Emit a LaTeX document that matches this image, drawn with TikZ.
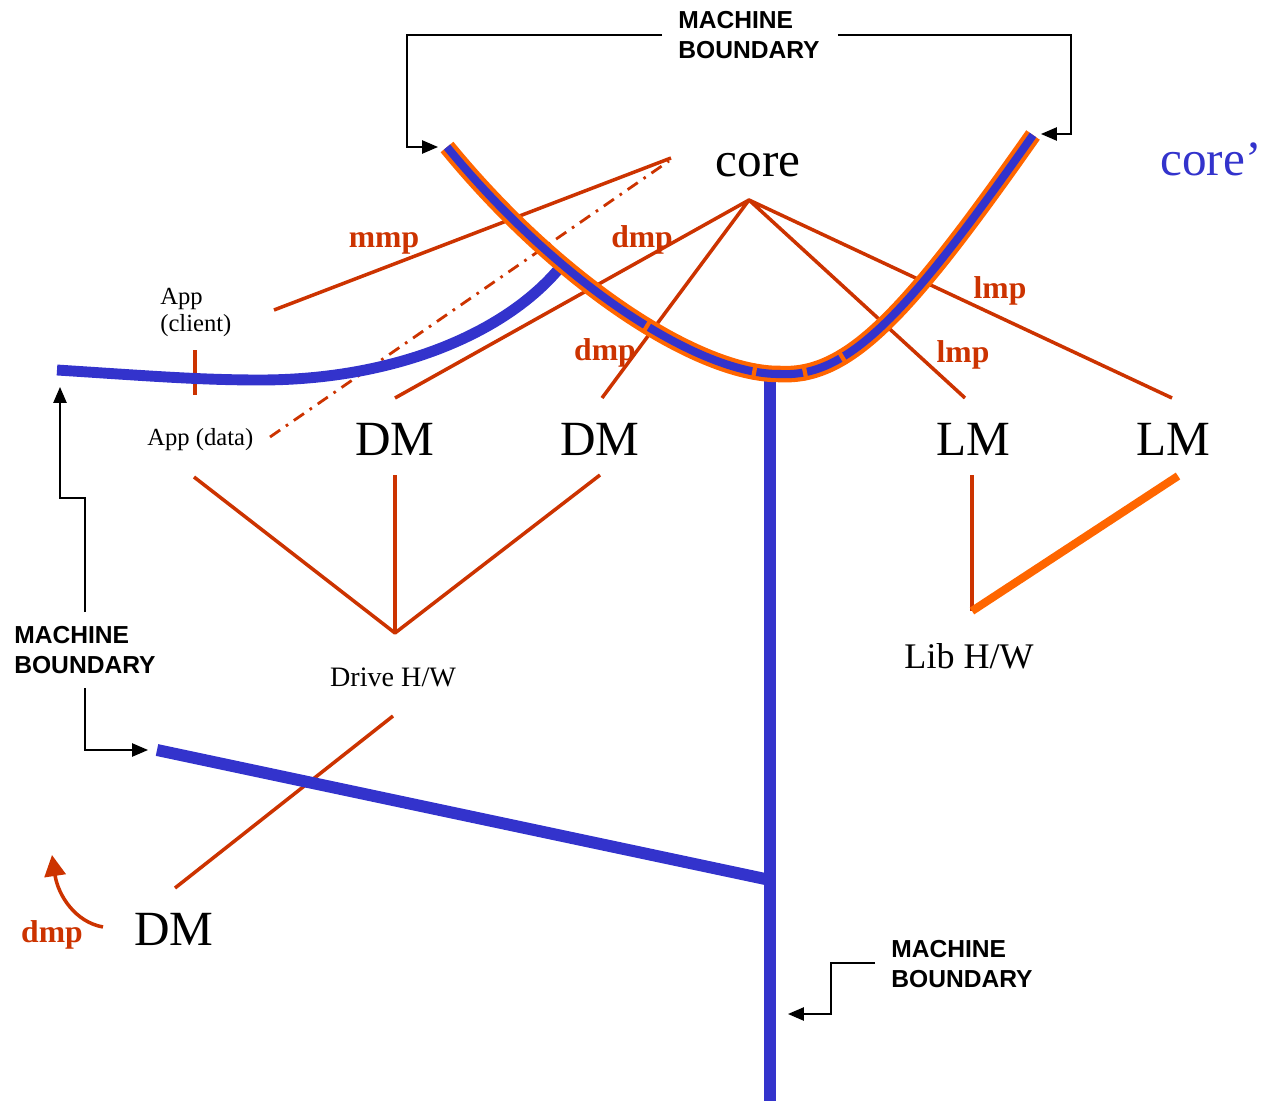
\documentclass[tikz,border=0pt]{standalone}
\usepackage{fontspec}
\setmainfont{Liberation Serif}
\setsansfont{Liberation Sans}
\usetikzlibrary{arrows.meta}
\definecolor{wireblue}{HTML}{3333CC}
\definecolor{mpred}{HTML}{CC3300}
\definecolor{hworange}{HTML}{FF6600}

\begin{document}
\begin{tikzpicture}[x=0.02cm,y=-0.02cm,
  mbtext/.style={font=\sffamily\bfseries\fontsize{14}{16.8}\selectfont,align=left,inner sep=0pt,anchor=west},
  mbline/.style={line width=0.9pt,-{Triangle[length=9pt,width=7.5pt]}},
  bigname/.style={font=\fontsize{28}{32}\selectfont,inner sep=0pt,anchor=base},
  hwname/.style={inner sep=0pt,anchor=base},
  mplabel/.style={font=\bfseries\fontsize{18}{20}\selectfont,text=mpred,inner sep=0pt,anchor=base},
  mpline/.style={draw=mpred,line width=2pt,line join=round},
  wire/.style={draw=wireblue,line width=6.2pt},
  joint/.style={sloped,fill=hworange,inner sep=0pt,minimum width=2.4pt,minimum height=9pt},
]
\useasboundingbox (0,0) rectangle (1263,1101);

% names
\node[bigname] (core) at (758,177) {core};
\node[bigname,text=wireblue] (corep) at (1211,176) {core’};
\node[bigname] (dmA) at (395,455) {DM};
\node[bigname] (dmB) at (600,455) {DM};
\node[bigname] (lmA) at (973,455) {LM};
\node[bigname] (lmB) at (1173,455) {LM};
\node[bigname] (dmC) at (174,945) {DM};
\node[hwname,font=\fontsize{16}{19}\selectfont] (drive) at (393,686) {Drive H/W};
\node[hwname,font=\fontsize{20.5}{24}\selectfont] (lib) at (969,668) {Lib H/W};
\node[inner sep=0pt,anchor=north west,align=left,font=\fontsize{14}{15.3}\selectfont] (appc) at (160,288) {App\\(client)};
\node[hwname,anchor=base west,font=\fontsize{14}{16}\selectfont] (appd) at (147,445) {App (data)};

% protocol labels
\node[mplabel] (mmp) at (384,248) {mmp};
\node[mplabel] (dmpA) at (642,248) {dmp};
\node[mplabel] (dmpB) at (605,360) {dmp};
\node[mplabel] (lmpA) at (1000,298) {lmp};
\node[mplabel] (lmpB) at (963,362) {lmp};
\node[mplabel] (dmpC) at (52,942) {dmp};

% machine boundary notes
\node[mbtext] (mbTop) at (678,35) {MACHINE\\BOUNDARY};
\node[mbtext] (mbLeft) at (14,650) {MACHINE\\BOUNDARY};
\node[mbtext] (mbRight) at (891,964) {MACHINE\\BOUNDARY};

% end points
\coordinate (hub) at (749,200);
\coordinate (dmA-top) at (395,398);
\coordinate (dmB-top) at (602,398);
\coordinate (lmA-top) at (965,398);
\coordinate (lmB-top) at (1172,398);
\coordinate (mmp-a) at (274,310);
\coordinate (mmp-b) at (671,158);
\coordinate (appd-a) at (270,437);
\coordinate (appd-b) at (669,161);
\coordinate (appd-bot) at (194,477);
\coordinate (dmA-bot) at (395,475);
\coordinate (dmB-bot) at (600,475);
\coordinate (drive-top) at (395,633);
\coordinate (drive-bot) at (393,716);
\coordinate (dmC-top) at (175,888);
\coordinate (lmA-bot) at (972,475);
\coordinate (lib-top) at (972,611);
\coordinate (lmB-bot) at (1178,476);

% red protocol lines
\draw[mpline] (mmp-a) -- (mmp-b);
\draw[mpline,line width=1.6pt,dash pattern=on 7pt off 4pt on 1.5pt off 4pt] (appd-a) -- (appd-b);
\draw[mpline] (dmA-top) -- (hub) -- (dmB-top);
\draw[mpline] (lmA-top) -- (hub) -- (lmB-top);
\draw[mpline] (appd-bot) -- (drive-top) -- (dmB-bot);
\draw[mpline] (dmA-bot) -- (drive-top);
\draw[mpline] (drive-bot) -- (dmC-top);
\draw[mpline] (lmA-bot) -- (lib-top);
\draw[draw=hworange,line width=4.6pt] (lib-top) -- (lmB-bot);
\draw[mpline] (195,350) -- (195,395);
\draw[mpline,-{Triangle[length=12pt,width=12pt]}] (103,927) .. controls (75,922) and (58,895) .. (52,855);

% blue wires
\draw[wire] (57,370) .. controls (150,376) and (200,380) .. (260,380)
  .. controls (400,380) and (510,330) .. (562,265);
\draw[wire,line width=6.8pt] (770,378) -- (770,1101);
\draw[wire,line width=6.8pt] (157,750) -- (770,880);

% core' wire
\draw[draw=hworange,line width=9.4pt] (447,147) .. controls (560,285) and (700,375) .. (780,374)
  .. controls (850,378) and (910,310) .. (1033,135);
\draw[draw=wireblue,line width=4.6pt] (447,147) .. controls (560,285) and (700,375) .. (780,374)
  node[joint,pos=0.56] {} node[joint,pos=0.9] {}
  .. controls (850,378) and (910,310) .. (1033,135)
  node[joint,pos=0.12] {} node[joint,pos=0.3] {};

% boundary pointers
\draw[mbline] ([xshift=-0.32cm]mbTop.west) -| (407,147) -- (438,147);
\draw[mbline] ([xshift=0.36cm]mbTop.east) -| (1071,134) -- (1041,134);
\draw[mbline] (85,612) |- (60,498) -- (60,387);
\draw[mbline] (85,688) |- (148,750);
\draw[mbline] (875,963) -| (831,1014) -- (788,1014);
\end{tikzpicture}
\end{document}
